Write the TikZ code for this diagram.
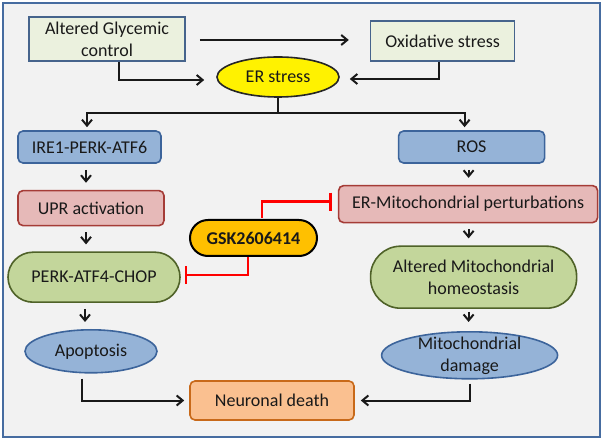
\documentclass[tikz,border=0pt]{standalone}
\usepackage{fontspec}
\setmainfont{Carlito}
\usepackage{tikz}
\usetikzlibrary{shapes.geometric, arrows.meta, positioning, calc}
\usepackage{xcolor}
\definecolor{framebg}{RGB}{242,242,242}
\definecolor{frameline}{RGB}{70,108,160}
\definecolor{inputfill}{RGB}{235,241,222}
\definecolor{inputline}{RGB}{70,100,140}
\definecolor{bluefill}{RGB}{149,179,215}
\definecolor{blueline}{RGB}{60,100,155}
\definecolor{pinkfill}{RGB}{230,185,184}
\definecolor{pinkline}{RGB}{165,60,55}
\definecolor{greenfill}{RGB}{195,214,155}
\definecolor{greenline}{RGB}{79,98,40}
\definecolor{orangefill}{RGB}{250,192,144}
\definecolor{orangeline}{RGB}{200,105,25}
\definecolor{drugfill}{RGB}{255,192,0}

\begin{document}
\begin{tikzpicture}[
    x=1pt, y=1pt,
    every node/.style={font=\fontsize{18}{22}\selectfont, text=black!90, inner sep=0pt, align=center, line width=1.6pt},
    inbox/.style={rectangle, draw=inputline, fill=inputfill},
    bluebox/.style={rectangle, draw=blueline, fill=bluefill, rounded corners=5pt},
    pinkbox/.style={rectangle, draw=pinkline, fill=pinkfill, rounded corners=5pt},
    greenbox/.style={rectangle, draw=greenline, fill=greenfill},
    blueoval/.style={ellipse, draw=blueline, fill=bluefill},
    arr/.style={-{Straight Barb[length=6pt, width=10pt, line width=2pt]}, line width=2pt, black!90},
    sarr/.style={arr, shorten <=6pt, shorten >=7pt},
    inhib/.style={-{Bar[width=18pt, line width=2.5pt]}, line width=2.5pt, red}
]
    \useasboundingbox (0,0) rectangle (602,-443);
    \draw[frameline, fill=framebg, line width=1.6pt] (3,-3) rectangle (600,-437);

    \node (glyc) [inbox, minimum width=156pt, minimum height=44pt] at (107,-39) {Altered Glycemic\\control};
    \node (oxi) [inbox, minimum width=144pt, minimum height=40pt, right=184pt of glyc, yshift=-2pt] {Oxidative stress};
    \node (er) [ellipse, draw=black!85, fill=yellow, minimum width=122pt, minimum height=40pt] at (278,-77) {ER stress};

    \node (ire) [bluebox, minimum width=143pt, minimum height=32pt] at (89.5,-147) {IRE1-PERK-ATF6};
    \node (upr) [pinkbox, minimum width=146pt, minimum height=35pt, below=26pt of ire, xshift=1.5pt] {UPR activation};
    \node (perk) [greenbox, rounded corners=25pt, minimum width=172pt, minimum height=50pt, below=25pt of upr, xshift=3pt] {PERK-ATF4-CHOP};
    \node (apop) [blueoval, minimum width=132pt, minimum height=43pt, below=26pt of perk, xshift=-3pt] {Apoptosis};

    \node (ros) [bluebox, minimum width=146pt, minimum height=32pt, right=236pt of ire] {ROS};
    \node (ermito) [pinkbox, minimum width=259pt, minimum height=37pt, below=21pt of ros, xshift=-3.5pt] {ER-Mitochondrial perturbations};
    \node (homeo) [greenbox, rounded corners=30pt, minimum width=206pt, minimum height=62pt, below=22pt of ermito, xshift=5.5pt] {Altered Mitochondrial\\homeostasis};
    \node (mdam) [blueoval, inner ysep=-4pt, minimum width=176pt, minimum height=47pt, below=22pt of homeo, xshift=-4pt] {Mitochondrial\\damage};

    \node (gsk) [draw=black, line width=2pt, fill=drugfill, rounded corners=18pt, minimum width=127pt, minimum height=36pt, font=\fontsize{18}{22}\selectfont\bfseries] at (253.5,-238) {GSK2606414};
    \node (neur) [rectangle, draw=orangeline, fill=orangefill, rounded corners=5pt, minimum width=164pt, minimum height=39pt] at (272,-400.5) {Neuronal death};

    \coordinate (split) at ([yshift=-15pt]er.south);

    \draw[arr, shorten <=14pt, shorten >=21pt] ([yshift=-1pt]glyc.east) -- ([yshift=1pt]oxi.west);
    \draw[arr, shorten >=12pt] ([xshift=12pt]glyc.south) |- ([yshift=-3pt]er.west);
    \draw[arr, shorten >=10pt] ([xshift=-4pt]oxi.south) |- ([yshift=-2pt]er.east);
    \draw[line width=2pt, black!90] (er.south) -- (split);
    \draw[arr, shorten >=3pt] (split) -| ([xshift=-2.5pt]ire.north);
    \draw[arr, shorten >=3pt] (split) -| ([xshift=-7pt]ros.north);

    \draw[sarr] ([xshift=-3.5pt]ire.south) -- ([xshift=-5pt]upr.north);
    \draw[sarr] ([xshift=-5pt]upr.south) -- ([xshift=-8pt]perk.north);
    \draw[sarr] ([xshift=-9pt]perk.south) -- ([xshift=-6pt]apop.north);
    \draw[sarr] ([xshift=-3pt]ros.south) -- ([xshift=0.5pt]ermito.north);
    \draw[sarr] ([xshift=0.5pt]ermito.south) -- ([xshift=-5pt]homeo.north);
    \draw[sarr, shorten <=3pt, shorten >=9pt] ([xshift=-5pt]homeo.south) -- ([xshift=-1pt]mdam.north);

    \draw[arr, shorten <=5pt, shorten >=5pt] ([xshift=-9pt]apop.south) |- (neur.west);
    \draw[arr, shorten <=4pt, shorten >=6pt] (mdam.south) |- (neur.east);

    \draw[inhib, shorten <=1pt, shorten >=6pt] ([xshift=8.5pt]gsk.north) |- ([yshift=2.5pt]ermito.west);
    \draw[inhib, shorten >=4pt] ([xshift=-5.5pt]gsk.south) |- ([yshift=2pt]perk.east);
\end{tikzpicture}
\end{document}
